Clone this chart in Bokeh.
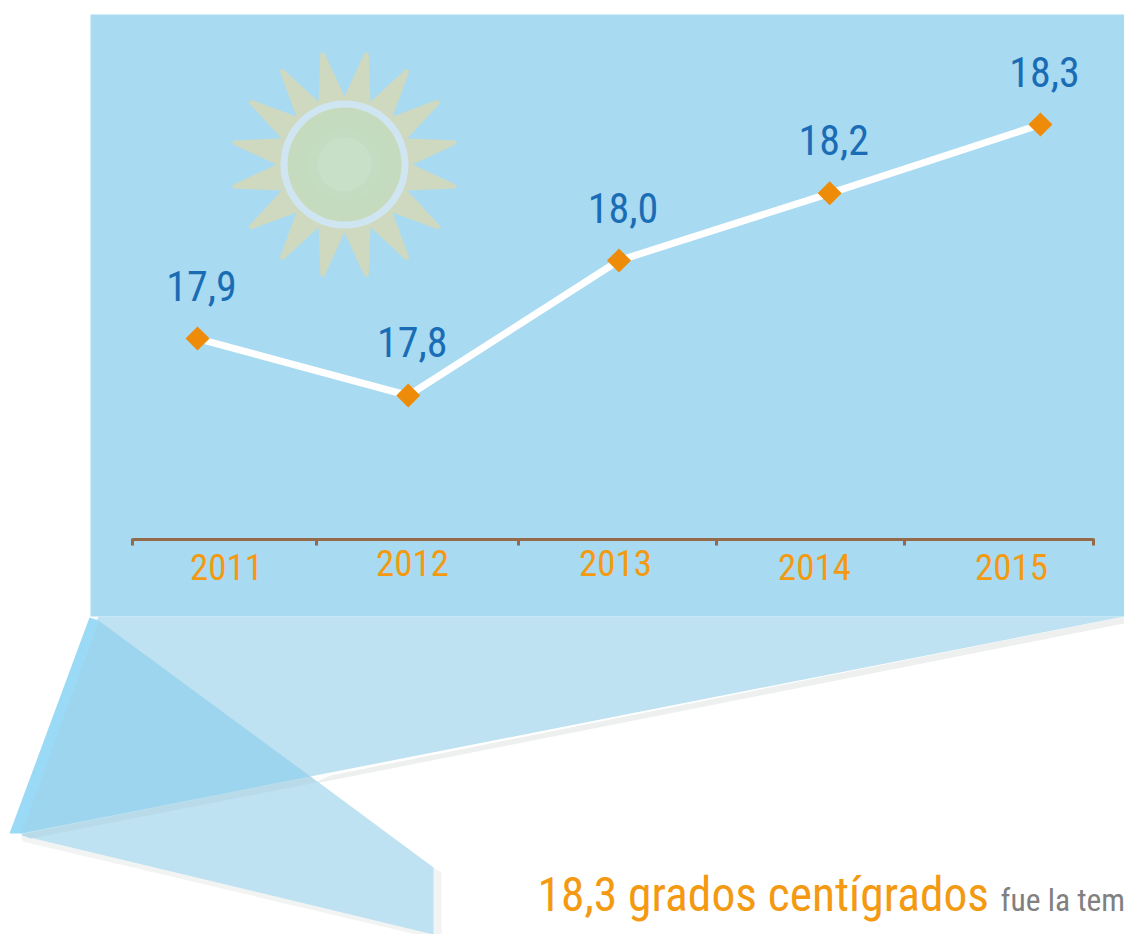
import numpy as np
from bokeh.plotting import figure
from bokeh.models import Range1d, ColumnDataSource
from bokeh.core.properties import value
from bokeh.embed import file_html
from bokeh.resources import INLINE

# ---- chart data ----
years = [2011, 2012, 2013, 2014, 2015]
printed_values = [17.9, 17.8, 18.0, 18.2, 18.3]
# heights of the points as drawn in the picture (the original line is not strictly to scale)
drawn_values = [17.905, 17.8, 18.049, 18.173, 18.3]
labels = ["17,9", "17,8", "18,0", "18,2", "18,3"]
year_labels = ["2011", "2012", "2013", "2014", "2015"]

# ---- layout (page pixels) ----
FONT = "Roboto Condensed"
tick_px = [132, 316, 518, 716, 904, 1093]
year_label_px = [226, 412, 615, 814, 1011]
year_label_base = [566, 562, 562, 566, 566]

p = figure(width=1124, height=934, output_backend="svg", toolbar_location=None,
           x_range=Range1d(0, 1124), y_range=Range1d(934, 0),
           min_border=0, outline_line_color=None, background_fill_color="white",
           border_fill_color="white")
p.axis.visible = False
p.grid.visible = False
p.extra_x_ranges["year"] = Range1d(2010.065, 2015.399)
p.extra_y_ranges["temp"] = Range1d(16.8055, 18.5288)

# shadows under the folded ribbons
p.patch([310, 1124, 1124, 330], [784, 623, 616, 775], color="#EEF0F0", line_color=None)
p.patch([22, 433, 441, 441, 433, 21], [841, 938, 938, 872, 867, 835], color="#F2F3F3", line_color=None)

# panel
p.patch([90, 1124, 1124, 90], [14, 14, 616, 616], color="#A8DAF1", line_color=None)

# ribbon and folds
p.patch([98, 1124, 20], [616, 616, 833], color="#BEE2F1", line_color=None)
p.patch([97, 433, 433, 21], [618, 867, 934, 835], color="#BEE2F1", line_color=None)
p.patch([98, 310, 20], [620, 776, 833], color="#9DD5EF", line_color=None)
p.patch([21, 310, 316, 30], [834, 776, 782, 838], color="#B9DAE9", line_color=None)
p.patch([89, 98, 21, 9], [617, 620, 833, 833], color="#9ADAF6", line_color=None)

# sun
cx, cy = 344, 164
k = np.arange(16)
valley = k * 22.5
ang = np.deg2rad(np.ravel(np.column_stack([valley, valley + 10.3, valley + 12.2])))
rad = np.ravel(np.column_stack([np.full(16, 68), np.full(16, 114), np.full(16, 114)]))
p.patch(cx + rad * np.cos(ang), cy + rad * np.sin(ang), color="#CFD9BF", line_color=None)
p.circle(cx, cy, radius=64, color="#CFE6F2", line_color=None)
p.circle(cx, cy, radius=57, color="#C6DBBD", line_color=None)
p.circle(cx, cy, radius=50, color="#C4DBBF", line_color=None)
p.circle(cx, cy, radius=36, color="#C4DCC2", line_color=None)
p.circle(cx, cy, radius=27, color="#C7E0C7", line_color=None)

# axis
p.line([tick_px[0], tick_px[-1]], [539, 539], line_color="#946A4A", line_width=3)
p.segment(tick_px, [538] * 6, tick_px, [545] * 6, line_color="#946A4A", line_width=3)
p.text(year_label_px, year_label_base, text=year_labels, text_color="#F39A12",
       text_font=value(FONT), text_font_size="37px",
       text_align="center", text_baseline="alphabetic")

# line
src = ColumnDataSource(dict(x=years, y=drawn_values, t=labels))
p.line("x", "y", source=src, x_range_name="year", y_range_name="temp",
       line_color="white", line_width=7)
p.scatter("x", "y", source=src, x_range_name="year", y_range_name="temp", marker="square",
          size=17, angle=np.pi / 4, color="#EE8C0A", line_color=None)
p.text("x", "y", text="t", source=src, x_range_name="year", y_range_name="temp",
       text_color="#1A6DB5", text_font=value(FONT), text_font_size="42px",
       text_align="center", text_baseline="alphabetic", x_offset=4, y_offset=-53)

# caption
p.text([537], [894], text=["18,3 grados centígrados"], text_color="#F39A12", text_font=value(FONT),
       text_font_size="47.5px", text_baseline="alphabetic")
p.text([1000], [900], text=["fue la tem"], text_color="#808080", text_font=value(FONT),
       text_font_size="31.5px", text_baseline="alphabetic")

open("out.html", "w").write(file_html(p, INLINE))
